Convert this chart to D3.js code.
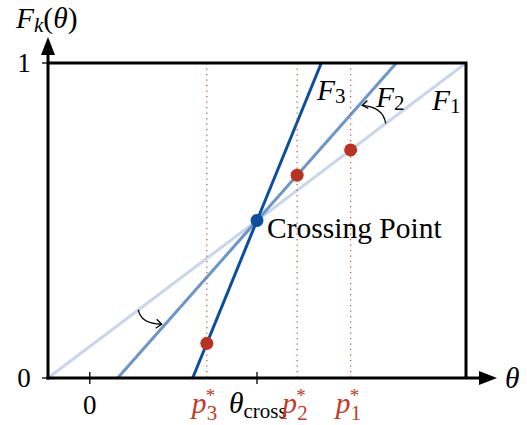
<!DOCTYPE html>
<html>
<head>
<meta charset="utf-8">
<script src="https://cdn.jsdelivr.net/npm/d3@7"></script>
<style>
  body { margin: 0; background: #fff; }
  svg text, svg tspan { font-family: "Liberation Serif", "Times New Roman", Tinos, serif !important; }
</style>
</head>
<body>
<svg id="chart" width="527" height="425"></svg>
<script>
// data: F_k(theta) = yCross + slope_k * (theta - thetaCross)
const thetaCross = 1, yCross = 0.5;
const curves = ["F1", "F2", "F3"];
const slopes = [0.4, 0.6, 1.3];
const colors = ["#c9d5eb", "#6c95c8", "#0b4e9b"];
const optima = [1.56, 1.24, 0.70];     // p*_1, p*_2, p*_3
const xTicks = [0, thetaCross];

const svg = d3.select("#chart"),
  mLeft = 48, mRight = 466, mTop = 63, mBottom = 378,
  fs = 29.5, sub = 21;

const x = d3.scaleLinear().domain([-0.25, 2.25]).range([mLeft, mRight]);
const y = d3.scaleLinear().domain([0, 1]).range([mBottom, mTop]);

const F = (k, t) => yCross + slopes[k] * (t - thetaCross);

// curve lines, clipped to [0,1]
const line = d3.line().x(d => x(d[0])).y(d => y(d[1]));
curves.forEach((c, k) => {
  const t0 = Math.max(x.domain()[0], thetaCross - yCross / slopes[k]),
    t1 = Math.min(x.domain()[1], thetaCross + (1 - yCross) / slopes[k]);
  svg.append("path")
    .attr("d", line([[t0, F(k, t0)], [t1, F(k, t1)]]))
    .attr("stroke", colors[k])
    .attr("stroke-width", 3)
    .attr("fill", "none");
});

// dotted verticals at p*
svg.selectAll(".vd").data(optima).join("line")
  .attr("x1", d => x(d)).attr("x2", d => x(d))
  .attr("y1", y(1)).attr("y2", y(0))
  .attr("stroke", "#d2453a")
  .attr("stroke-width", 1.2)
  .attr("stroke-dasharray", "1.2,4.3");

// frame
svg.append("path")
  .attr("d", `M${mLeft},${mTop}H${mRight}V${mBottom}`)
  .attr("fill", "none").attr("stroke", "#000").attr("stroke-width", 3);

// axes with arrows
svg.append("line").attr("x1", mLeft).attr("x2", mLeft).attr("y1", mBottom + 1.5).attr("y2", 50)
  .attr("stroke", "#000").attr("stroke-width", 3);
svg.append("path").attr("d", `M${mLeft},37L${mLeft - 7},55L${mLeft + 7},55Z`).attr("fill", "#000");
svg.append("line").attr("x1", mLeft - 1.5).attr("x2", 485).attr("y1", mBottom).attr("y2", mBottom)
  .attr("stroke", "#000").attr("stroke-width", 3);
svg.append("path").attr("d", `M497,${mBottom}L479,${mBottom - 7}L479,${mBottom + 7}Z`).attr("fill", "#000");

// ticks
svg.selectAll(".xt").data(xTicks).join("line")
  .attr("x1", d => x(d)).attr("x2", d => x(d))
  .attr("y1", mBottom - 6).attr("y2", mBottom + 6)
  .attr("stroke", "#000").attr("stroke-width", 1.3);
svg.selectAll(".yt").data([0, 1]).join("line")
  .attr("x1", mLeft - 6).attr("x2", mLeft)
  .attr("y1", d => y(d)).attr("y2", d => y(d))
  .attr("stroke", "#000").attr("stroke-width", 1.3);
svg.selectAll(".yl").data([0, 1]).join("text")
  .attr("x", 24).attr("y", d => y(d) + 9)
  .attr("text-anchor", "middle").attr("font-size", 27)
  .text(d => d);

// crossing point
svg.append("circle").attr("cx", x(thetaCross)).attr("cy", y(yCross)).attr("r", 6.5).attr("fill", "#0b4e9b");
svg.append("text").attr("x", x(thetaCross) + 10).attr("y", y(yCross) + 17)
  .attr("font-size", fs).text("Crossing Point");

// optimum points
svg.selectAll(".pt").data(optima).join("circle")
  .attr("cx", d => x(d))
  .attr("cy", (d, i) => y(F(i, d)))
  .attr("r", 6.5).attr("fill", "#b93322");

// x-axis labels
svg.append("text").attr("x", x(0)).attr("y", 414).attr("text-anchor", "middle")
  .attr("font-size", 27).text("0");
const tc = svg.append("text").attr("x", x(thetaCross) - 28).attr("y", 413).attr("font-size", fs);
tc.append("tspan").attr("font-style", "italic").text("θ");
tc.append("tspan").attr("font-size", sub).attr("dy", 5).text("cross");

optima.forEach((d, i) => {
  const g = svg.append("g").attr("fill", "#c23b27");
  g.append("text").attr("x", x(d) - 15).attr("y", 413).attr("font-size", fs)
    .attr("font-style", "italic").text("p");
  g.append("text").attr("x", x(d) - 1).attr("y", 402).attr("font-size", 19).text("*");
  g.append("text").attr("x", x(d)).attr("y", 420).attr("font-size", sub).text(i + 1);
});

// curve labels
const labelPos = [[432, 110], [376, 107], [317, 100]];
curves.forEach((c, k) => {
  const t = svg.append("text").attr("x", labelPos[k][0]).attr("y", labelPos[k][1]).attr("font-size", fs);
  t.append("tspan").attr("font-style", "italic").text("F");
  t.append("tspan").attr("font-size", sub).attr("dy", 3).text(k + 1);
});

// axis titles
const yt = svg.append("text").attr("x", 16).attr("y", 28).attr("font-size", fs);
yt.append("tspan").attr("font-style", "italic").text("F");
yt.append("tspan").attr("font-style", "italic").attr("font-size", sub).attr("dy", 4).text("k");
yt.append("tspan").attr("dy", -4).text("(");
yt.append("tspan").attr("font-style", "italic").text("θ");
yt.append("tspan").text(")");
svg.append("text").attr("x", 505).attr("y", 388).attr("font-size", fs).attr("font-style", "italic").text("θ");

// rotation arrows (F1 -> F2)
function rotArrow(t0, t1, bend, head) {
  const p0 = [x(t0), y(F(0, t0))], p1 = [x(t1), y(F(1, t1)) + bend[2]];
  svg.append("path")
    .attr("d", `M${p0}Q${bend[0]},${bend[1]} ${p1}`)
    .attr("fill", "none").attr("stroke", "#000").attr("stroke-width", 1.3);
  svg.append("path")
    .attr("d", `M${p1[0] + head[0]},${p1[1] + head[1]}L${p1}L${p1[0] + head[2]},${p1[1] + head[3]}`)
    .attr("fill", "none").attr("stroke", "#000").attr("stroke-width", 1.3);
}
rotArrow(1.77, 1.63, [383, 107, 4], [5, -5, 6, 3]);
rotArrow(0.29, 0.43, [141, 324, -4], [-5, -5, -6, 4]);

svg.selectAll("text").attr("font-family", "Liberation Serif");
</script>
</body>
</html>
